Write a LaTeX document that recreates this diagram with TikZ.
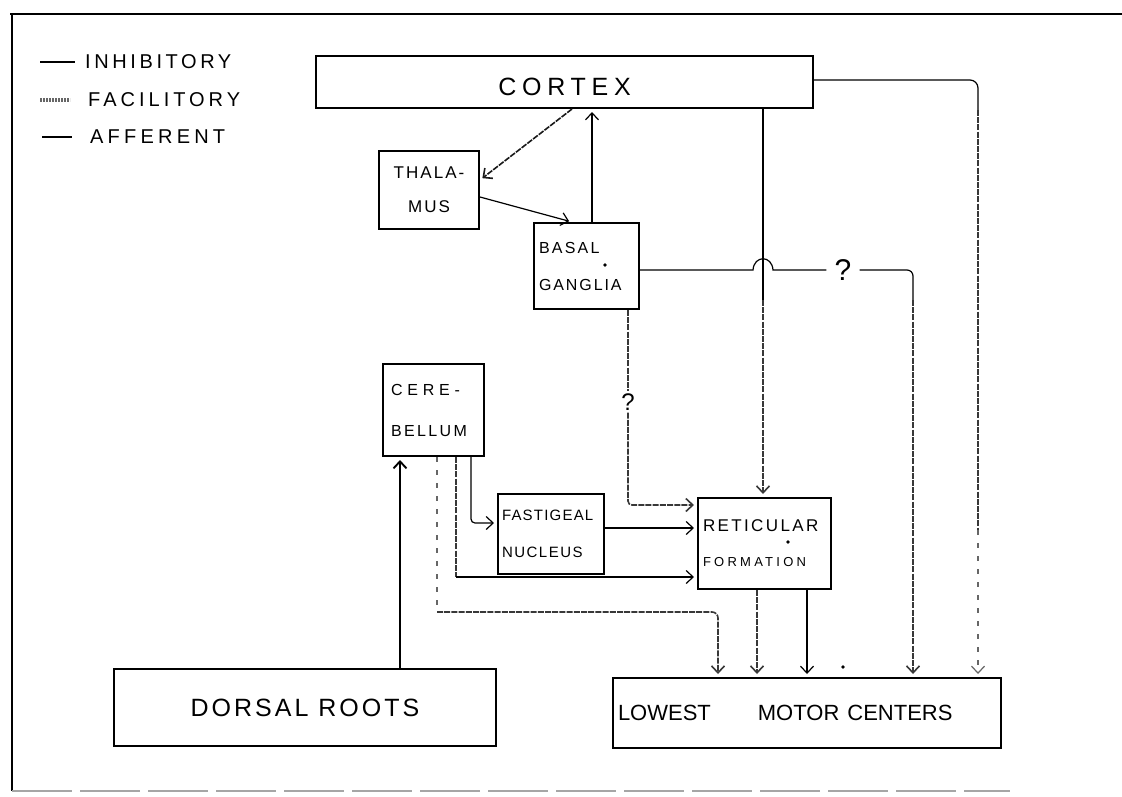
\documentclass[tikz,border=0pt]{standalone}
\usepackage{fontspec}
\setmainfont{Liberation Sans}
\usetikzlibrary{arrows.meta}
\newcommand\lsp[1]{\addfontfeature{LetterSpace=#1}}
\begin{document}
\begin{tikzpicture}[x=1pt,y=-1pt,
  box/.style={draw, line width=2pt, anchor=north west, inner ysep=0pt},
  inh/.style={line width=1.2pt},
  aff/.style={line width=1.9pt},
  facil/.style={line width=1.6pt, draw=black!78, dash pattern=on 6pt off 1.2pt},
  sparse/.style={line width=1.2pt, draw=black!60, dash pattern=on 5pt off 8pt},
  arr/.style={-{Straight Barb[length=7pt,width=13pt]}, shorten >=3pt},
  leg/.style={anchor=west, inner sep=0pt, font=\fontsize{20}{24}\selectfont},
  qm/.style={inner xsep=8pt, inner ysep=3pt}]
\useasboundingbox (0,0) rectangle (1122,796);
% frame
\draw[line width=2.5pt] (10,14) -- (1122,14);
\draw[line width=1.5pt] (12,14) -- (12,791);
\draw[black!35, line width=1.5pt, dash pattern=on 60pt off 8pt] (12,791) -- (1010,791);
% legend
\draw[line width=1.2pt] (40,62) -- (75,62);
\draw[line width=2.6pt] (50,62) -- (72,62);
\draw[black!60, line width=4pt, dash pattern=on 2pt off 1pt] (40,100) -- (70,100);
\draw[line width=2.8pt] (42,137) -- (72,137);
\node[leg] (lgI) at (85,62) {\lsp{18}INHIBITORY};
\node[leg] (lgF) at (88,100) {\lsp{20}FACILITORY};
\node[leg] (lgA) at (90,137) {\lsp{21}AFFERENT};
% boxes
\node[box, minimum width=497pt, minimum height=52pt, text height=18pt, text depth=5pt, font=\fontsize{25}{30}\selectfont] (cortex) at (315,55) {\raisebox{-7pt}{\lsp{23}CORTEX}};
\node[box, minimum width=100pt, minimum height=78pt, text width=88pt, inner xsep=6pt, align=center, font=\fontsize{17}{34}\selectfont] (thal) at (378,150) {\lsp{12}THALA-\\\lsp{12}MUS};
\node[box, minimum height=86pt, text width=95pt, inner xsep=5pt, align=left, font=\fontsize{16}{37}\selectfont] (bg) at (533,222) {\lsp{14}BASAL\\\lsp{12}GANGLIA};
\node[box, minimum height=92pt, text width=85pt, inner xsep=8pt, align=left, font=\fontsize{16}{41}\selectfont] (cer) at (382,363) {\lsp{30}CERE-\\\lsp{15}BELLUM};
\node[box, minimum height=80pt, text width=98pt, inner xsep=4pt, align=left, font=\fontsize{15}{37}\selectfont] (fast) at (497,493) {\lsp{8}FASTIGEAL\\\lsp{10}NUCLEUS};
\node[box, minimum height=91pt, text width=123pt, inner xsep=5pt, align=left, font=\fontsize{17}{35}\selectfont] (rf) at (697,497) {\lsp{14}RETICULAR\\{\fontsize{13}{35}\selectfont\lsp{25}FORMATION}};
\node[box, minimum width=382pt, minimum height=77pt, font=\fontsize{25}{30}\selectfont] (dr) at (113,668) {\lsp{12}DORSAL ROOTS};
\node[box, minimum height=70pt, text width=378pt, inner xsep=5pt, align=left, font=\fontsize{22}{26}\selectfont] (lmc) at (612,677) {LOWEST\hspace{47pt}MOTOR\hspace{8pt}CENTERS};
% question marks
\node[qm, font=\fontsize{30}{32}\selectfont] (q1) at (843,270) {?};
\node[inner xsep=3pt, inner ysep=2pt, font=\fontsize{24}{26}\selectfont] (q2) at (628,402) {?};
% waypoints
\coordinate (cr1) at (763,300);
\coordinate (bq1) at (913,300);
\coordinate (cq1) at (978,110);
\coordinate (cq2) at (978,530);
\coordinate (cf1) at (456,577);
\coordinate (cl1) at (437,612);
% connectors
\draw[facil, draw=black!90, arr] (cortex.south -| 572,0) -- (thal.east |- 0,180);
\draw[inh, arr] (thal.east |- 0,197) -- (bg.north -| 572,0);
\draw[inh, arr] (bg.north -| 592,0) -- (cortex.south -| 592,0);
\draw[inh] (cortex.south -| 763,0) -- (cr1);
\draw[facil, arr] (cr1) -- (rf.north -| 763,0);
\draw[inh] (bg.east |- 0,270) -- (753,270) .. controls (754,255) and (772,255) .. (773,270) -- (q1.west);
\draw[inh, rounded corners=6pt] (q1.east) -- (913,270) -- (bq1);
\draw[facil, arr] (bq1) -- (lmc.north -| 913,0);
\draw[inh, rounded corners=8pt] (cortex.east |- 0,80) -- (978,80) -- (cq1);
\draw[facil] (cq1) -- (cq2);
\draw[sparse, arr] (cq2) -- (lmc.north -| 978,0);
\draw[facil] (bg.south -| 628,0) -- (q2.north);
\draw[facil, arr, rounded corners=4pt] (q2.south) -- (628,505) -- (rf.west |- 0,505);
\draw[inh, arr, rounded corners=4pt] (cer.south -| 471,0) -- (471,523) -- (fast.west |- 0,523);
\draw[inh, arr] (fast.east |- 0,528) -- (rf.west |- 0,528);
\draw[facil] (cer.south -| 456,0) -- (cf1);
\draw[inh, arr] (cf1) -- (rf.west |- cf1);
\draw[sparse] (cer.south -| 437,0) -- (cl1);
\draw[facil, arr, rounded corners=6pt] (cl1) -- (718,612) -- (lmc.north -| 718,0);
\draw[facil, arr] (rf.south -| 757,0) -- (lmc.north -| 757,0);
\draw[inh, arr] (rf.south -| 807,0) -- (lmc.north -| 807,0);
\draw[aff, arr] (dr.north -| 400,0) -- (cer.south -| 400,0);
% specks
\fill (605,265) circle (1.8);
\fill (788,542) circle (1.8);
\fill (843,667) circle (1.8);
\end{tikzpicture}
\end{document}
